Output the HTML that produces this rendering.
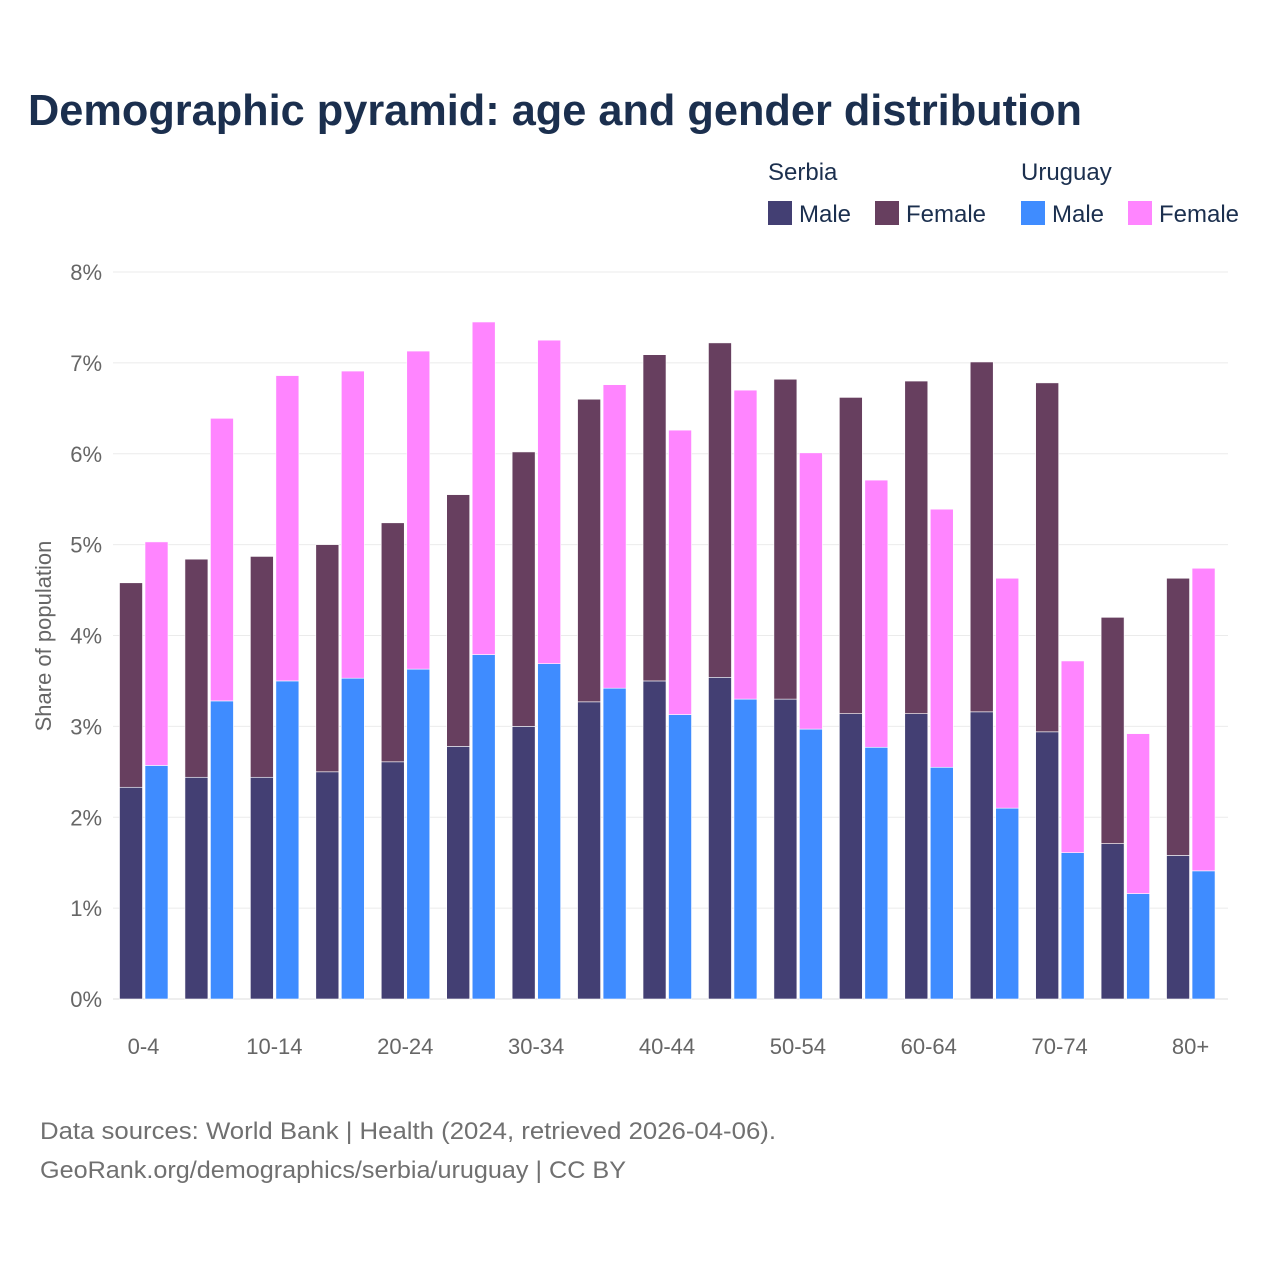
<!DOCTYPE html>
<html><head><meta charset="utf-8">
<style>
body{margin:0;background:#fff;width:1280px;height:1280px;overflow:hidden;font-family:"Liberation Sans",sans-serif;}
</style></head>
<body>
<svg id="chart" width="1280" height="1280" xmlns="http://www.w3.org/2000/svg" font-family="Liberation Sans, sans-serif">
<text x="28" y="125" font-size="44" font-weight="bold" fill="#1b2f4e" textLength="1054" lengthAdjust="spacingAndGlyphs">Demographic pyramid: age and gender distribution</text>
<g font-size="24" fill="#1b2f4e">
<text x="768" y="180">Serbia</text>
<text x="1021" y="180">Uruguay</text>
<rect x="768" y="201" width="24" height="24" fill="#433f73"/>
<text x="799" y="222">Male</text>
<rect x="875" y="201" width="24" height="24" fill="#673f5f"/>
<text x="906" y="222">Female</text>
<rect x="1021" y="201" width="24" height="24" fill="#3f8cff"/>
<text x="1052" y="222">Male</text>
<rect x="1128" y="201" width="24" height="24" fill="#ff85ff"/>
<text x="1159" y="222">Female</text>
</g>
<g id="grid"></g>
<g id="bars"></g>
<g id="xlabels"></g>
<text transform="translate(51,636) rotate(-90)" text-anchor="middle" font-size="22" fill="#666">Share of population</text>
<text x="40" y="1139" font-size="24" fill="#707070" textLength="736" lengthAdjust="spacingAndGlyphs">Data sources: World Bank | Health (2024, retrieved 2026-04-06).</text>
<text x="40" y="1178" font-size="24" fill="#707070" textLength="586" lengthAdjust="spacingAndGlyphs">GeoRank.org/demographics/serbia/uruguay | CC BY</text>
</svg>
<script>
const categories=["0-4","5-9","10-14","15-19","20-24","25-29","30-34","35-39","40-44","45-49","50-54","55-59","60-64","65-69","70-74","75-79","80+"];
const serbiaMale=[2.33,2.44,2.44,2.50,2.61,2.78,3.00,3.27,3.50,3.54,3.30,3.14,3.14,3.16,2.94,1.71,1.58];
const serbiaFemale=[2.25,2.40,2.43,2.50,2.63,2.77,3.02,3.33,3.59,3.68,3.52,3.48,3.66,3.85,3.84,2.49,3.05];
const uruguayMale=[2.57,3.28,3.50,3.53,3.63,3.79,3.69,3.42,3.13,3.30,2.97,2.77,2.55,2.10,1.61,1.16,1.41];
const uruguayFemale=[2.46,3.11,3.36,3.38,3.50,3.66,3.56,3.34,3.13,3.40,3.04,2.94,2.84,2.53,2.11,1.76,3.33];
const yTicks=[0,1,2,3,4,5,6,7,8];
const NS="http://www.w3.org/2000/svg";
const y=v=>999-v*90.875;
const xc=i=>143.5+i*65.44;
function mk(t,a,p){const e=document.createElementNS(NS,t);for(const k in a)e.setAttribute(k,a[k]);p.appendChild(e);return e;}
const grid=document.getElementById('grid');
yTicks.forEach(t=>{
  const l=mk('line',{x1:113,x2:1228,y1:y(t),y2:y(t),stroke:t===0?'#ddd':'#ebebeb','stroke-width':1},grid);
  
  
  const tx=mk('text',{x:102,y:y(t)+8,'text-anchor':'end','font-size':22,fill:'#666'},grid);
  tx.textContent=t+'%';
  
  
});
const bars=document.getElementById('bars');
function bar(x,v0,v1,c,name){
  const r=mk('rect',{x:x,y:y(v1),width:23,height:y(v0)-y(v1),fill:c,stroke:'#fff','stroke-width':0.6},bars);
  
  
}
categories.forEach((c,i)=>{
  const x=xc(i);
  bar(x-24,0,serbiaMale[i],'#433f73','bar-serbia-male');
  bar(x-24,serbiaMale[i],serbiaMale[i]+serbiaFemale[i],'#673f5f','bar-serbia-female');
  bar(x+1.5,0,uruguayMale[i],'#3f8cff','bar-uruguay-male');
  bar(x+1.5,uruguayMale[i],uruguayMale[i]+uruguayFemale[i],'#ff85ff','bar-uruguay-female');
  if(i%2===0){
    const t=mk('text',{x:x,y:1054,'text-anchor':'middle','font-size':22,fill:'#666'},document.getElementById('xlabels'));
    t.textContent=c;
    
    
  }
});
</script>
</body></html>
